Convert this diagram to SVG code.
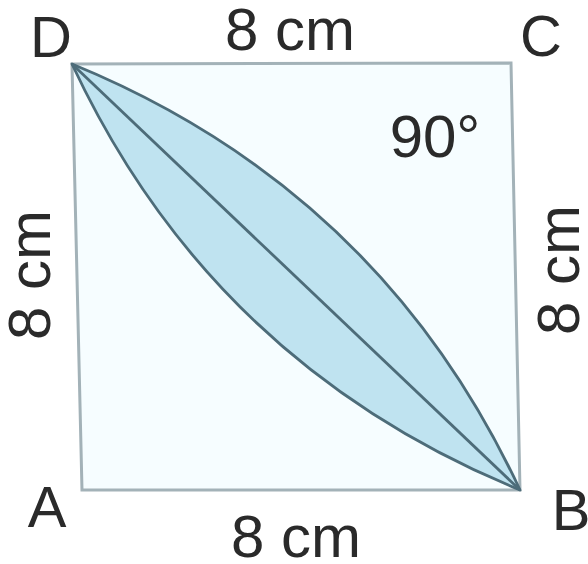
<svg xmlns="http://www.w3.org/2000/svg" width="588" height="564" viewBox="0 0 588 564">
  <style>
    .lbl { font-family: "Liberation Sans", Arial, sans-serif; font-size: 60px; fill: #2a2a2a; }
    .pt { font-size: 58px; }
    .edge { fill: #f6fdff; stroke: #a3b2b8; stroke-width: 3; }
    .lens { fill: #bfe3f0; stroke: #4d6c79; stroke-width: 2.8; stroke-linejoin: round; }
    .diag { stroke: #4d6c79; stroke-width: 2.8; fill: none; }
  </style>
  <rect width="588" height="564" fill="#ffffff"/>
  <g id="square">
    <polygon class="edge" points="72,64 511,63 520,490 82,490"/>
  </g>
  <g id="connectors">
    <path id="lens" class="lens" d="M72,64 Q380,190 520,490 Q212,364 72,64 Z"/>
    <line id="diagonal-DB" class="diag" x1="72" y1="64" x2="520" y2="490"/>
  </g>
  <g id="vertex-D"><text class="lbl pt" x="51" y="57" text-anchor="middle">D</text></g>
  <g id="vertex-C"><text class="lbl pt" x="541" y="56" text-anchor="middle">C</text></g>
  <g id="vertex-B"><text class="lbl pt" x="571" y="530" text-anchor="middle">B</text></g>
  <g id="vertex-A"><text class="lbl pt" x="47" y="527" text-anchor="middle">A</text></g>
  <g id="labels">
    <text class="lbl" x="290" y="50" text-anchor="middle">8 cm</text>
    <text class="lbl" x="296" y="557" text-anchor="middle">8 cm</text>
    <text class="lbl" x="435" y="157" text-anchor="middle">90°</text>
    <text class="lbl" x="50" y="275" text-anchor="middle" transform="rotate(-90 50 275)">8 cm</text>
    <text class="lbl" x="579" y="270" text-anchor="middle" transform="rotate(-90 579 270)">8 cm</text>
  </g>
</svg>
